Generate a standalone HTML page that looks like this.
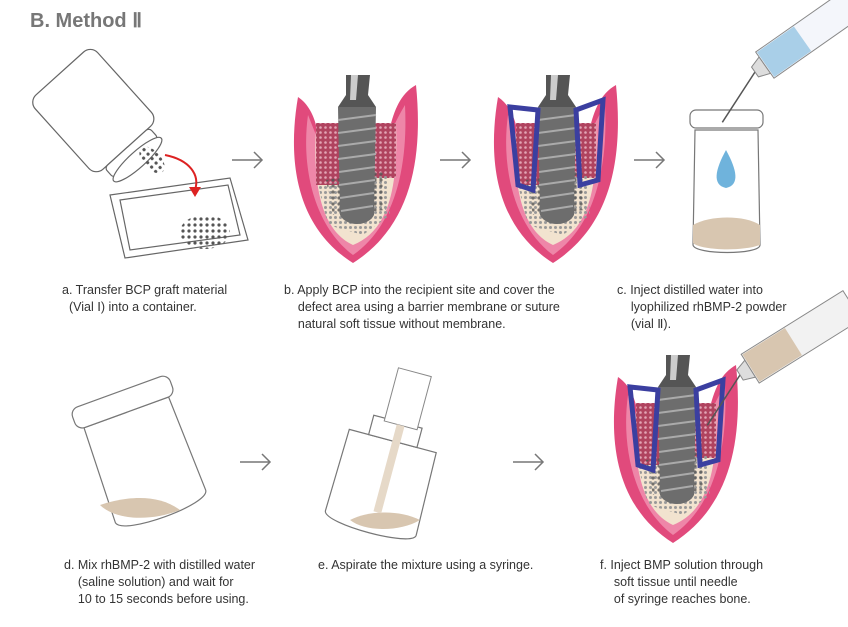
<!DOCTYPE html>
<html><head><meta charset="utf-8"><style>
body{margin:0;width:848px;height:627px;background:#fff;position:relative;overflow:hidden;font-family:"Liberation Sans",sans-serif;}
.t{position:absolute;font-size:12.5px;line-height:17px;color:#333;}
h1{position:absolute;left:30px;top:8px;margin:0;font-size:20px;color:#777;font-weight:bold;}
svg{position:absolute;left:0;top:0;}
</style></head><body>
<h1>B. Method Ⅱ</h1>
<svg width="848" height="627" viewBox="0 0 848 627">
<defs>
<pattern id="dots" width="6" height="6" patternUnits="userSpaceOnUse"><circle cx="3" cy="3" r="1.6" fill="#555"/></pattern>
<pattern id="gdots" width="5" height="5" patternUnits="userSpaceOnUse"><circle cx="2.5" cy="2.5" r="1.5" fill="#999"/></pattern>
<pattern id="rdots" width="5" height="5" patternUnits="userSpaceOnUse"><rect width="5" height="5" fill="#b0435f"/><circle cx="2.5" cy="2.5" r="1.3" fill="#e3a5b5"/></pattern>
<g id="tooth">
<path d="M10,22 C0,80 5,150 65,188 C125,150 135,80 128,10 C110,20 105,40 100,60 L30,60 C28,45 22,30 10,22Z" fill="#e14a7c"/>
<path d="M20,40 C13,90 25,150 65,180 C108,150 120,90 117,30 C108,45 104,55 100,65 L30,65Z" fill="#ee86a8"/>
<path d="M28,55 C25,110 33,155 65,170 C102,155 110,110 108,50 L28,50Z" fill="#f2e3cf"/>
<rect x="28" y="48" width="28" height="62" fill="url(#rdots)"/>
<rect x="86" y="48" width="22" height="55" fill="url(#rdots)"/>
<path d="M30,110 L100,100 L102,140 L75,160 L40,150Z" fill="url(#gdots)"/>
<path d="M38,105 L95,95 L98,135 L45,140Z" fill="url(#dots)" opacity=".8"/>
<path d="M50,32 L88,32 L86,140 C80,152 58,152 52,140Z" fill="#6d6d6d"/>
<g stroke="#aaa" stroke-width="2"><line x1="50" y1="45" x2="88" y2="40"/><line x1="50" y1="58" x2="88" y2="53"/><line x1="50" y1="71" x2="88" y2="66"/><line x1="50" y1="84" x2="88" y2="79"/><line x1="51" y1="97" x2="87" y2="92"/><line x1="51" y1="110" x2="87" y2="105"/><line x1="52" y1="123" x2="86" y2="118"/><line x1="53" y1="136" x2="85" y2="131"/></g>
<path d="M58,0 L82,0 L80,20 L88,32 L50,32 L58,20Z" fill="#555"/>
<path d="M63,0 L70,0 L68,25 L62,25Z" fill="#ccc"/>
</g>
<g id="memb"><path d="M22,32 L30,110 L45,115 L50,35Z M88,35 L92,110 L110,105 L115,25Z" fill="none" stroke="#3b3fa0" stroke-width="5"/></g>
<g id="arr" fill="none" stroke="#777" stroke-width="1.5"><line x1="0" y1="0" x2="30" y2="0"/><polyline points="22,-8 30,0 22,8"/></g>
</defs>
<!-- a -->
<g fill="#fff" stroke="#666" stroke-width="1.2">
<g transform="translate(100,118) rotate(48)">
<rect x="-60" y="-42" width="100" height="84" rx="10"/>
<rect x="40" y="-30" width="14" height="60" rx="4"/>
<ellipse cx="56" cy="0" rx="8" ry="32"/>
</g>
<path d="M110,195 L230,178 L248,240 L125,258 Z"/>
<path d="M120,200 L228,185 L240,235 L130,250 Z"/>
</g>
<ellipse cx="152" cy="160" rx="9" ry="16" transform="rotate(-42 152 160)" fill="url(#dots)"/>
<ellipse cx="205" cy="232" rx="25" ry="17" fill="url(#dots)"/>
<path d="M165,155 C190,160 200,175 195,190" fill="none" stroke="#d22" stroke-width="2"/>
<polygon points="189,187 201,187 195,197" fill="#d22"/>
<use href="#arr" x="232" y="160"/>
<use href="#tooth" x="288" y="75"/>
<use href="#arr" x="440" y="160"/>
<use href="#tooth" x="488" y="75"/>
<use href="#memb" x="488" y="75"/>
<use href="#arr" x="634" y="160"/>
<!-- c vial -->
<g stroke="#777" stroke-width="1.2" fill="#fff">
<path d="M695,130 L758,130 L760,245 C760,255 695,255 693,245Z"/>
<rect x="690" y="110" width="73" height="18" rx="6"/>
</g>
<path d="M693,225 C710,215 745,215 760,225 L760,245 C740,252 700,250 693,243Z" fill="#d8c6b0"/>
<path d="M726,150 C715,170 712,185 726,188 C740,185 737,170 726,150Z" fill="#6fb3dc"/>
<g transform="translate(755,72) rotate(-35)">
<line x1="0" y1="0" x2="-60" y2="0" stroke="#555" stroke-width="1.5" transform="rotate(-22)"/>
<path d="M0,-6 L12,-10 L12,10 L0,6Z" fill="#ddd" stroke="#888"/>
<rect x="12" y="-16" width="120" height="32" fill="#f4f6fb" stroke="#888"/>
<rect x="13" y="-15" width="45" height="30" fill="#a9cfe8"/>
</g>
<!-- d -->
<g stroke="#777" stroke-width="1.2" fill="#fff" transform="rotate(-20 140 450)">
<path d="M95,410 L185,410 L188,510 C188,525 95,525 92,510Z"/>
<rect x="88" y="388" width="104" height="22" rx="8"/>
</g>
<path d="M100,505 C130,495 160,495 180,510 C150,522 115,520 100,505Z" fill="#d8c6b0"/>
<use href="#arr" x="240" y="462"/>
<!-- e -->
<g stroke="#777" stroke-width="1.2" fill="#fff" transform="rotate(15 385 470)">
<path d="M340,440 L430,440 L432,525 C432,538 340,538 338,525Z"/>
<rect x="360" y="420" width="50" height="20"/>
</g>
<path d="M350,520 C370,510 400,510 420,520 C400,532 365,532 350,520Z" fill="#d8c6b0"/>
<g transform="rotate(15 400 420)"><rect x="385" y="370" width="34" height="55" fill="#fff" stroke="#888"/><rect x="398" y="425" width="8" height="90" fill="#e6d9c8"/></g>
<use href="#arr" x="513" y="462"/>
<use href="#tooth" x="608" y="355"/>
<use href="#memb" x="608" y="355"/>
<g transform="translate(740,375) rotate(-32)">
<line x1="0" y1="0" x2="-60" y2="0" stroke="#555" stroke-width="1.5" transform="rotate(-25)"/>
<path d="M0,-6 L12,-10 L12,10 L0,6Z" fill="#ddd" stroke="#888"/>
<rect x="12" y="-17" width="120" height="34" fill="#f2f2f2" stroke="#888"/>
<rect x="13" y="-16" width="50" height="32" fill="#d8c6b0"/>
</g>
</svg>
<div class="t" style="left:62px;top:282px">a. Transfer BCP graft material<br>&nbsp;&nbsp;(Vial Ⅰ) into a container.</div>
<div class="t" style="left:284px;top:282px">b. Apply BCP into the recipient site and cover the<br>&nbsp;&nbsp;&nbsp;&nbsp;defect area using a barrier membrane or suture<br>&nbsp;&nbsp;&nbsp;&nbsp;natural soft tissue without membrane.</div>
<div class="t" style="left:617px;top:282px">c. Inject distilled water into<br>&nbsp;&nbsp;&nbsp;&nbsp;lyophilized rhBMP-2 powder<br>&nbsp;&nbsp;&nbsp;&nbsp;(vial Ⅱ).</div>
<div class="t" style="left:64px;top:557px">d. Mix rhBMP-2 with distilled water<br>&nbsp;&nbsp;&nbsp;&nbsp;(saline solution) and wait for<br>&nbsp;&nbsp;&nbsp;&nbsp;10 to 15 seconds before using.</div>
<div class="t" style="left:318px;top:557px">e. Aspirate the mixture using a syringe.</div>
<div class="t" style="left:600px;top:557px">f. Inject BMP solution through<br>&nbsp;&nbsp;&nbsp;&nbsp;soft tissue until needle<br>&nbsp;&nbsp;&nbsp;&nbsp;of syringe reaches bone.</div>
</body></html>
